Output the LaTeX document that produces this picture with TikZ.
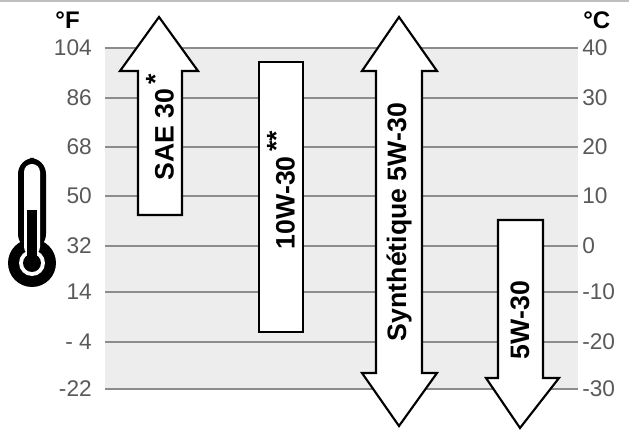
\documentclass[tikz,border=0pt]{standalone}
\usepackage{fontspec}
\setmainfont{Liberation Sans}
\begin{document}
\begin{tikzpicture}[x=0.75pt,y=-0.75pt,
  grid/.style={draw=black!45,line width=1.5pt},
  lab/.style={text=black!65,font=\fontsize{17}{17}\selectfont},
  oil/.style={draw=black,line width=1.6pt,fill=white,line join=miter},
  oiltxt/.style={font=\bfseries\fontsize{20}{20}\selectfont,rotate=90}]
\useasboundingbox (0,0) rectangle (629,434);
\draw[black!25,line width=1pt] (0,1) -- (629,1);
\fill[black!7] (105,48) rectangle (578,389);
\foreach \y/\f/\c in {48/104/40,98/86/30,147/68/20,196/50/10,246/32/0,292/14/-10,342/- 4/-20,389/-22/-30}{
  \draw[grid] (105,\y) -- (578,\y);
  \node[lab,anchor=east,inner sep=0pt] (f\y) at (92,\y) {\f};
  \node[lab,anchor=west,inner sep=0pt] (c\y) at (582,\y) {\c};
}
\node[font=\bfseries\fontsize{18}{18}\selectfont,anchor=east,inner sep=0pt] (fu) at (80,20) {°F};
\node[font=\bfseries\fontsize{18}{18}\selectfont,anchor=west,inner sep=0pt] (cu) at (583,20) {°C};
% thermometer
\fill[black] (32,263) circle (24);
\fill[black,rounded corners=12pt] (18,158) rectangle (46,250);
\fill[white,rounded corners=6pt] (24,164) rectangle (40,255);
\fill[white] (32,263) circle (13);
\fill[black] (32,263) circle (9);
\fill[black] (27,210) rectangle (37,262);
% SAE 30
\draw[oil] (138,215) -- (138,71) -- (120,71) -- (159,17) -- (198,71) -- (182,71) -- (182,215) -- cycle;
\node[oiltxt] (sae) at (160,127) {SAE 30\raisebox{0.35em}{\,*}};
% 10W-30
\draw[oil] (259,62) rectangle (303,332);
\node[oiltxt] (w10) at (281,190) {10W-30\raisebox{0.35em}{\,**}};
% Synthetique
\draw[oil] (376,71) -- (362,71) -- (399,17) -- (437,71) -- (422,71) -- (422,373) -- (437,373) -- (399,426) -- (362,373) -- (376,373) -- cycle;
\node[oiltxt] (syn) at (399,222) {Synthétique 5W-30};
% 5W-30
\draw[oil] (498,220) -- (543,220) -- (543,378) -- (559,378) -- (520,428) -- (486,378) -- (498,378) -- cycle;
\node[oiltxt] (w5) at (520,320) {5W-30};
\end{tikzpicture}
\end{document}
